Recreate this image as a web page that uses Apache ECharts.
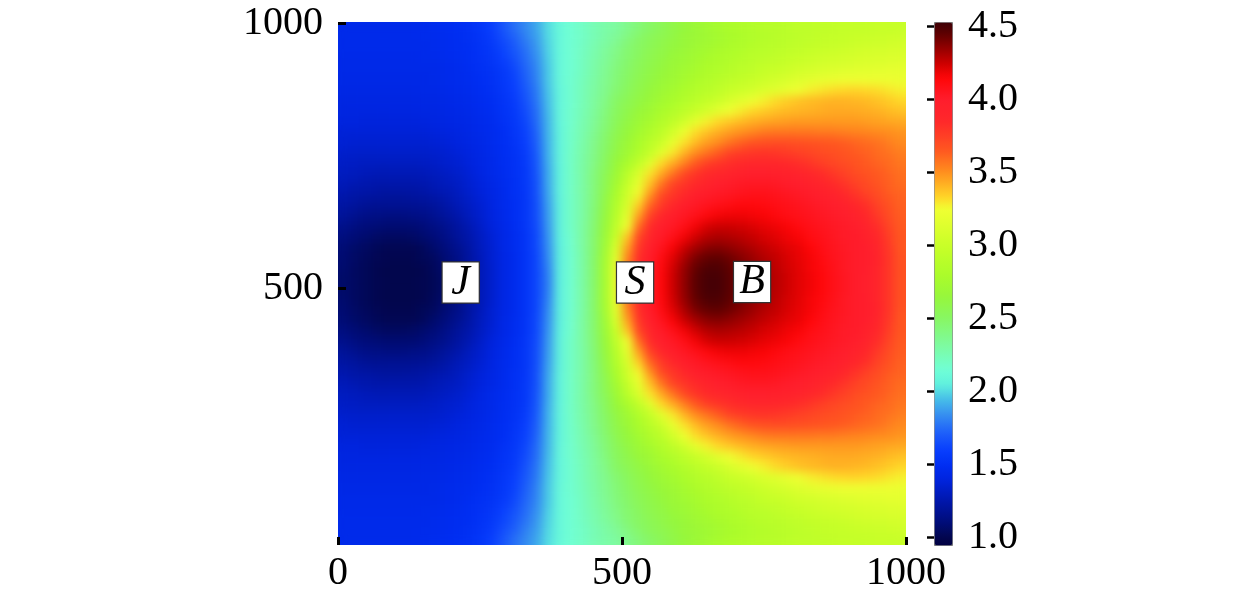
<!DOCTYPE html>
<html>
<head>
<meta charset="utf-8">
<script src="https://cdn.jsdelivr.net/npm/echarts@6/dist/echarts.min.js"></script>
<style>html,body{margin:0;padding:0;background:#fff}#c{width:1260px;height:598px;background:#fff}</style>
</head>
<body>
<svg width="0" height="0" style="position:absolute">
  <filter id="smooth" x="0" y="0" width="100%" height="100%" color-interpolation-filters="sRGB">
    <feGaussianBlur stdDeviation="5"/>
    <feComponentTransfer><feFuncA type="linear" slope="30"/></feComponentTransfer>
  </filter>
</svg>
<div id="c"></div>
<script>
// cell centres along x (20-unit cells), and rows of the upper half, y = 990 down to y = 510
const xCells = [10,30,50,70,90,110,130,150,170,190,210,230,250,270,290,310,330,350,370,390,410,430,450,470,490,510,530,550,570,590,610,630,650,670,690,710,730,750,770,790,810,830,850,870,890,910,930,950,970,990];
const upperRows = [
[1.46,1.46,1.46,1.46,1.46,1.46,1.46,1.47,1.48,1.49,1.5,1.52,1.55,1.6,1.68,1.76,1.83,1.9,2.01,2.1,2.16,2.2,2.25,2.29,2.32,2.38,2.44,2.5,2.55,2.6,2.65,2.69,2.73,2.77,2.8,2.83,2.85,2.87,2.89,2.91,2.93,2.94,2.95,2.96,2.97,2.98,2.98,2.99,2.99,2.99],
[1.46,1.46,1.46,1.46,1.46,1.46,1.46,1.47,1.47,1.48,1.49,1.51,1.54,1.58,1.65,1.72,1.8,1.88,2.0,2.1,2.16,2.2,2.25,2.3,2.35,2.42,2.49,2.54,2.58,2.62,2.66,2.69,2.72,2.75,2.78,2.81,2.84,2.86,2.88,2.9,2.92,2.94,2.96,2.97,2.98,3.0,3.01,3.02,3.03,3.04],
[1.46,1.46,1.46,1.46,1.46,1.46,1.46,1.46,1.47,1.48,1.49,1.5,1.53,1.56,1.62,1.69,1.77,1.86,1.99,2.1,2.16,2.21,2.27,2.33,2.39,2.46,2.51,2.56,2.6,2.64,2.68,2.72,2.75,2.78,2.81,2.84,2.87,2.89,2.91,2.93,2.95,2.97,2.99,3.01,3.03,3.04,3.06,3.07,3.08,3.09],
[1.45,1.45,1.45,1.45,1.45,1.45,1.45,1.46,1.46,1.47,1.48,1.5,1.52,1.55,1.6,1.66,1.75,1.84,1.98,2.1,2.16,2.22,2.28,2.34,2.41,2.47,2.53,2.58,2.62,2.67,2.7,2.74,2.78,2.81,2.84,2.87,2.9,2.92,2.95,2.97,3.0,3.02,3.04,3.06,3.08,3.09,3.1,3.11,3.12,3.13],
[1.45,1.45,1.45,1.45,1.45,1.45,1.45,1.45,1.45,1.46,1.47,1.49,1.51,1.53,1.57,1.63,1.73,1.82,1.97,2.1,2.16,2.22,2.29,2.36,2.43,2.49,2.55,2.6,2.64,2.69,2.73,2.77,2.81,2.84,2.87,2.91,2.94,2.97,3.0,3.03,3.06,3.08,3.1,3.12,3.14,3.15,3.16,3.17,3.18,3.18],
[1.44,1.44,1.44,1.44,1.44,1.44,1.44,1.44,1.45,1.46,1.47,1.48,1.5,1.52,1.56,1.61,1.71,1.81,1.97,2.1,2.17,2.23,2.3,2.37,2.44,2.51,2.57,2.62,2.67,2.71,2.76,2.81,2.85,2.89,2.93,2.96,3.0,3.03,3.07,3.1,3.14,3.17,3.2,3.22,3.24,3.24,3.24,3.23,3.23,3.22],
[1.43,1.43,1.43,1.43,1.43,1.43,1.43,1.44,1.44,1.45,1.46,1.47,1.49,1.51,1.55,1.6,1.69,1.79,1.96,2.09,2.17,2.24,2.31,2.38,2.46,2.53,2.59,2.65,2.7,2.75,2.8,2.85,2.89,2.94,2.99,3.03,3.07,3.11,3.15,3.2,3.24,3.28,3.3,3.32,3.33,3.34,3.33,3.32,3.3,3.28],
[1.42,1.42,1.42,1.42,1.42,1.42,1.42,1.43,1.43,1.44,1.45,1.46,1.48,1.5,1.54,1.58,1.67,1.78,1.95,2.09,2.17,2.24,2.32,2.4,2.5,2.56,2.62,2.68,2.74,2.79,2.85,2.91,2.97,3.03,3.1,3.17,3.24,3.28,3.32,3.35,3.38,3.4,3.41,3.42,3.42,3.41,3.4,3.38,3.36,3.33],
[1.41,1.41,1.41,1.41,1.41,1.41,1.41,1.42,1.42,1.43,1.44,1.45,1.47,1.49,1.53,1.57,1.65,1.76,1.94,2.09,2.18,2.25,2.33,2.42,2.52,2.59,2.66,2.72,2.79,2.85,2.93,3.0,3.08,3.17,3.25,3.29,3.33,3.36,3.38,3.4,3.41,3.42,3.43,3.44,3.44,3.44,3.43,3.42,3.4,3.38],
[1.4,1.4,1.39,1.39,1.39,1.39,1.39,1.4,1.41,1.42,1.43,1.44,1.46,1.48,1.52,1.56,1.63,1.75,1.93,2.09,2.18,2.26,2.34,2.44,2.54,2.62,2.7,2.77,2.85,2.94,3.05,3.18,3.28,3.33,3.37,3.4,3.43,3.45,3.46,3.47,3.48,3.48,3.48,3.48,3.48,3.48,3.47,3.46,3.45,3.44],
[1.38,1.38,1.38,1.38,1.38,1.38,1.38,1.38,1.39,1.4,1.41,1.43,1.45,1.47,1.5,1.55,1.61,1.73,1.93,2.08,2.19,2.27,2.36,2.46,2.57,2.65,2.74,2.83,2.92,3.06,3.23,3.32,3.38,3.43,3.47,3.5,3.53,3.56,3.57,3.57,3.57,3.57,3.56,3.56,3.55,3.54,3.53,3.52,3.51,3.49],
[1.37,1.36,1.36,1.36,1.36,1.36,1.36,1.36,1.37,1.38,1.4,1.42,1.44,1.47,1.5,1.54,1.6,1.72,1.92,2.08,2.19,2.28,2.38,2.48,2.6,2.69,2.79,2.9,3.02,3.2,3.31,3.4,3.47,3.52,3.58,3.63,3.67,3.69,3.7,3.7,3.69,3.68,3.67,3.66,3.64,3.62,3.6,3.58,3.55,3.52],
[1.35,1.34,1.34,1.34,1.34,1.34,1.34,1.34,1.35,1.36,1.38,1.4,1.43,1.46,1.49,1.53,1.58,1.7,1.92,2.08,2.2,2.29,2.39,2.5,2.62,2.72,2.84,2.97,3.16,3.3,3.42,3.52,3.58,3.65,3.74,3.77,3.79,3.8,3.79,3.77,3.75,3.73,3.71,3.69,3.67,3.65,3.63,3.6,3.58,3.55],
[1.33,1.32,1.31,1.31,1.31,1.31,1.31,1.32,1.33,1.35,1.36,1.39,1.42,1.45,1.49,1.52,1.57,1.69,1.91,2.08,2.2,2.3,2.4,2.52,2.66,2.79,2.95,3.16,3.33,3.44,3.55,3.66,3.76,3.8,3.83,3.86,3.88,3.89,3.88,3.86,3.83,3.8,3.76,3.73,3.7,3.68,3.65,3.62,3.6,3.57],
[1.31,1.3,1.29,1.28,1.28,1.28,1.28,1.29,1.3,1.32,1.34,1.37,1.41,1.45,1.48,1.52,1.56,1.68,1.9,2.07,2.2,2.3,2.42,2.55,2.7,2.9,3.11,3.31,3.45,3.58,3.72,3.8,3.85,3.89,3.93,3.96,3.98,3.98,3.97,3.95,3.92,3.88,3.84,3.79,3.75,3.71,3.68,3.65,3.62,3.59],
[1.29,1.27,1.26,1.25,1.25,1.25,1.25,1.26,1.28,1.3,1.32,1.36,1.39,1.43,1.47,1.51,1.56,1.67,1.9,2.07,2.2,2.3,2.42,2.56,2.75,2.98,3.2,3.39,3.58,3.74,3.8,3.86,3.92,3.98,4.01,4.03,4.04,4.04,4.03,4.01,3.99,3.95,3.91,3.86,3.81,3.75,3.71,3.67,3.63,3.6],
[1.26,1.24,1.23,1.22,1.21,1.21,1.22,1.23,1.25,1.27,1.3,1.34,1.38,1.42,1.46,1.51,1.55,1.67,1.89,2.07,2.2,2.3,2.42,2.59,2.79,3.04,3.27,3.5,3.71,3.79,3.87,3.98,4.01,4.03,4.05,4.07,4.08,4.08,4.07,4.05,4.03,4.01,3.98,3.94,3.88,3.81,3.75,3.7,3.65,3.62],
[1.23,1.21,1.19,1.18,1.18,1.18,1.18,1.19,1.21,1.24,1.28,1.32,1.36,1.41,1.46,1.5,1.55,1.66,1.88,2.06,2.2,2.3,2.43,2.61,2.84,3.1,3.36,3.62,3.78,3.89,4.0,4.03,4.06,4.09,4.11,4.13,4.13,4.12,4.1,4.08,4.06,4.04,4.02,4.0,3.95,3.9,3.82,3.74,3.68,3.63],
[1.2,1.17,1.15,1.14,1.13,1.13,1.14,1.15,1.18,1.21,1.25,1.3,1.35,1.4,1.45,1.5,1.55,1.66,1.87,2.06,2.2,2.3,2.44,2.63,2.88,3.18,3.47,3.75,3.88,4.0,4.04,4.08,4.13,4.17,4.18,4.18,4.17,4.16,4.13,4.1,4.08,4.06,4.04,4.02,4.0,3.94,3.87,3.78,3.7,3.64],
[1.16,1.13,1.11,1.1,1.09,1.09,1.09,1.11,1.14,1.17,1.22,1.27,1.33,1.39,1.44,1.49,1.55,1.65,1.86,2.06,2.2,2.31,2.45,2.65,2.94,3.25,3.6,3.84,3.98,4.03,4.09,4.17,4.23,4.25,4.25,4.24,4.22,4.2,4.18,4.16,4.12,4.09,4.06,4.04,4.02,4.0,3.92,3.83,3.73,3.65],
[1.13,1.1,1.08,1.06,1.05,1.05,1.06,1.08,1.11,1.15,1.2,1.25,1.31,1.37,1.43,1.48,1.54,1.64,1.85,2.06,2.18,2.31,2.46,2.68,3.0,3.37,3.73,3.9,4.02,4.08,4.17,4.24,4.29,4.31,4.3,4.28,4.26,4.23,4.21,4.18,4.16,4.11,4.08,4.05,4.02,4.01,3.96,3.87,3.76,3.66],
[1.1,1.07,1.05,1.03,1.02,1.02,1.02,1.04,1.08,1.12,1.17,1.23,1.3,1.36,1.43,1.48,1.54,1.64,1.84,2.05,2.18,2.31,2.46,2.7,3.1,3.46,3.79,3.98,4.06,4.16,4.25,4.32,4.37,4.38,4.36,4.33,4.3,4.27,4.24,4.21,4.19,4.15,4.1,4.06,4.03,4.01,3.99,3.9,3.78,3.66],
[1.09,1.06,1.04,1.02,1.01,1.01,1.01,1.03,1.05,1.1,1.15,1.22,1.29,1.36,1.42,1.47,1.54,1.63,1.83,2.05,2.17,2.3,2.47,2.73,3.16,3.53,3.83,4.01,4.11,4.21,4.31,4.4,4.44,4.45,4.42,4.38,4.34,4.3,4.27,4.23,4.2,4.17,4.12,4.07,4.04,4.01,4.0,3.92,3.79,3.67],
[1.08,1.05,1.03,1.01,1.0,1.0,1.0,1.01,1.04,1.08,1.13,1.21,1.28,1.35,1.42,1.47,1.54,1.63,1.81,2.05,2.17,2.3,2.47,2.75,3.19,3.58,3.86,4.02,4.13,4.24,4.35,4.44,4.49,4.49,4.45,4.4,4.36,4.32,4.28,4.24,4.21,4.17,4.13,4.08,4.04,4.01,3.99,3.9,3.79,3.68],
[1.07,1.05,1.03,1.01,1.0,1.0,1.0,1.01,1.03,1.07,1.12,1.2,1.28,1.35,1.42,1.47,1.54,1.63,1.8,2.05,2.17,2.3,2.47,2.75,3.2,3.6,3.87,4.02,4.14,4.25,4.36,4.46,4.51,4.51,4.46,4.41,4.37,4.33,4.29,4.25,4.21,4.18,4.14,4.09,4.05,4.01,3.98,3.9,3.79,3.68]
];
const fieldRows = upperRows.concat(upperRows.slice().reverse()); // listed top to bottom

const xTicks = [0, 500, 1000];
const yTicks = [500, 1000];
const barTicks = [1.0, 1.5, 2.0, 2.5, 3.0, 3.5, 4.0, 4.5];
const markNames = ['J', 'S', 'B'];
const markX = [216, 523, 729];
const markY = [502, 502, 503];

const barMin = 0.95, barMax = 4.53;
const colourStops = [
 [0.95,[0,0,66]],[1.0,[2,6,76]],[1.1,[0,12,118]],[1.25,[0,22,170]],[1.4,[0,36,222]],[1.5,[0,46,242]],
 [1.6,[8,62,253]],[1.72,[30,95,250]],[1.85,[55,145,240]],[1.95,[70,190,232]],[2.05,[95,240,222]],[2.15,[112,255,214]],
 [2.35,[128,250,150]],[2.5,[135,247,100]],[2.65,[150,247,60]],[2.8,[172,252,42]],[3.0,[200,255,40]],[3.25,[240,255,50]],
 [3.33,[255,215,40]],[3.5,[255,145,30]],[3.65,[255,88,32]],[3.85,[255,40,42]],[4.0,[255,30,45]],[4.15,[255,6,8]],
 [4.25,[205,0,0]],[4.35,[150,0,0]],[4.45,[95,0,0]],[4.53,[62,0,6]]
];
const paletteSteps = 256;
function paletteAt(v){
  for(let i=1;i<colourStops.length;i++){
    if(v<=colourStops[i][0]){
      const a=colourStops[i-1],b=colourStops[i],t=(v-a[0])/(b[0]-a[0]);
      return 'rgb('+a[1].map((c,k)=>Math.round(c+(b[1][k]-c)*t)).join(',')+')';
    }
  }
  return 'rgb(62,0,6)';
}
const palette=[];
for(let i=0;i<paletteSteps;i++) palette.push(paletteAt(barMin+(barMax-barMin)*i/(paletteSteps-1)));

const heatData=[];
const yCells=[];
const nRows=fieldRows.length;
for(let r=0;r<nRows;r++){
  yCells.push(String(10+20*r));
  const row=fieldRows[nRows-1-r];
  for(let c=0;c<xCells.length;c++) heatData.push([c,r,row[c]]);
}

const serif='"Liberation Serif","Times New Roman",serif';
const G={left:338,top:22,width:568,height:523};
const B={left:934,top:22,width:18,height:523};
const YG={left:338,top:23,width:568,height:530};
const plain=v=>String(v);
const chart=echarts.init(document.getElementById('c'),null,{renderer:'canvas'});
chart.setOption({
  animation:false,
  backgroundColor:'transparent',
  grid:[
    Object.assign({},G,{show:false}),
    Object.assign({},G,{show:false}),
    Object.assign({},B,{show:false}),
    Object.assign({},YG,{show:false})
  ],
  xAxis:[
    {gridIndex:0,type:'category',data:xCells.map(String),show:false},
    {gridIndex:1,type:'value',min:0,max:1000,interval:500,position:'bottom',zlevel:1,
      axisLine:{show:false},splitLine:{show:false},
      axisTick:{show:true,inside:true,length:8,lineStyle:{color:'#000',width:3}},
      axisLabel:{show:true,color:'#000',fontFamily:serif,fontSize:40,margin:8,formatter:plain,showMinLabel:true,showMaxLabel:true}},
    {gridIndex:2,type:'value',min:0,max:1,show:false},
    {gridIndex:3,type:'value',min:0,max:1000,show:false}
  ],
  yAxis:[
    {gridIndex:0,type:'category',data:yCells,show:false},
    {gridIndex:1,type:'value',min:0,max:1000,show:false},
    {gridIndex:2,type:'value',min:barMin,max:barMax,position:'right',zlevel:1,
      axisLine:{show:false},splitLine:{show:false},
      axisTick:{show:true,inside:true,length:7,customValues:barTicks,lineStyle:{color:'#000',width:2.5}},
      axisLabel:{show:true,color:'#000',fontFamily:serif,fontSize:40,margin:16,customValues:barTicks,
        padding:[0,0,8,0],formatter:v=>Number(v).toFixed(1)}},
    {gridIndex:3,type:'value',min:0,max:1000,position:'left',zlevel:1,
      axisLine:{show:false},splitLine:{show:false},
      axisTick:{show:true,inside:true,length:8,customValues:yTicks,lineStyle:{color:'#000',width:3}},
      axisLabel:{show:true,color:'#000',fontFamily:serif,fontSize:40,margin:15,customValues:yTicks,formatter:plain}}
  ],
  visualMap:[
    {type:'continuous',min:barMin,max:barMax,seriesIndex:0,dimension:2,zlevel:1,
     calculable:false,realtime:false,hoverLink:false,
     orient:'vertical',left:B.left,top:B.top,itemWidth:B.width,itemHeight:B.height,padding:0,
     text:null,showLabel:false,borderColor:'#777',borderWidth:1,
     inRange:{color:palette}}
  ],
  series:[
    {type:'heatmap',xAxisIndex:0,yAxisIndex:0,data:heatData,progressive:0,silent:true,
      itemStyle:{borderWidth:0},emphasis:{disabled:true}},
    {type:'scatter',xAxisIndex:1,yAxisIndex:1,symbolSize:1,silent:true,zlevel:1,
      itemStyle:{opacity:1,color:'rgba(0,0,0,0)'},
      data:markNames.map((n,i)=>({name:n,value:[markX[i],markY[i]]})),
      label:{show:true,position:'inside',formatter:p=>p.name,color:'#000',opacity:1,fontFamily:serif,fontStyle:'italic',
        fontSize:42,backgroundColor:'#fff',borderColor:'#333',borderWidth:1.2,width:36,height:40,lineHeight:40,align:'center',verticalAlign:'middle'}}
  ]
});
// the heatmap stays on the chart's first canvas layer: soften the cell edges, keep it inside the plot
const heatLayer=chart.getDom().querySelectorAll('canvas')[0];
heatLayer.style.filter='url(#smooth)';
heatLayer.style.clipPath='inset('+G.top+'px '+(1260-G.left-G.width)+'px '+(598-G.top-G.height)+'px '+G.left+'px)';
</script>
</body>
</html>
